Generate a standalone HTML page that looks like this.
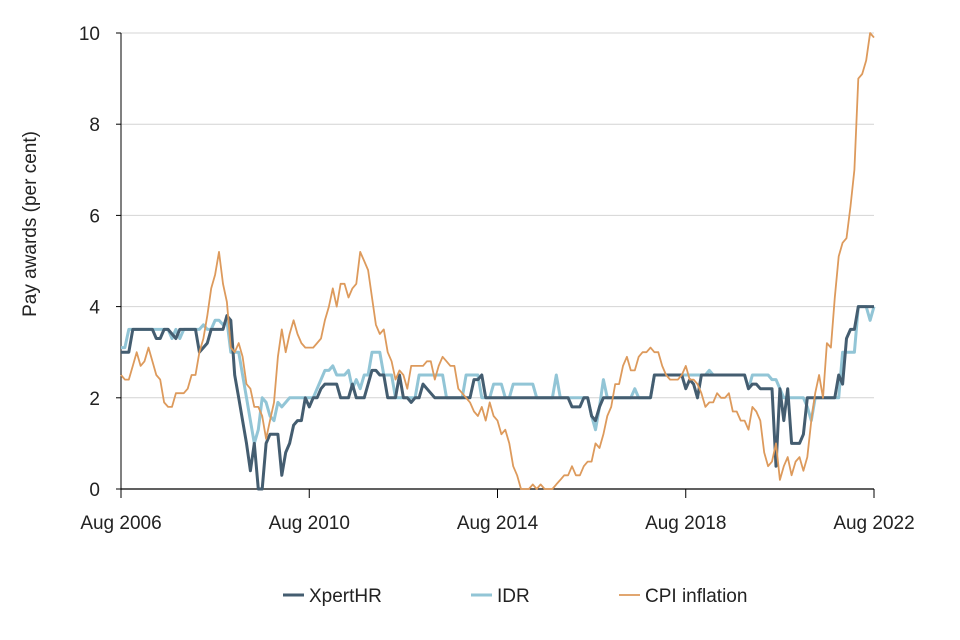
<!DOCTYPE html>
<html><head><meta charset="utf-8"><style>
html,body{margin:0;padding:0;background:#fff;width:960px;height:640px;overflow:hidden}
text{font-family:"Liberation Sans",sans-serif;fill:#222}
</style></head><body>
<svg id="chart" width="960" height="640" viewBox="0 0 960 640" xmlns="http://www.w3.org/2000/svg">
<g id="grid"></g><g id="axes"></g><g id="series"></g><g id="legend"></g>
</svg>
<script>
const xTickLabels = ["Aug 2006","Aug 2010","Aug 2014","Aug 2018","Aug 2022"];
const xTickMonths = [0,48,96,144,192];
const yTicks = [0,2,4,6,8,10];
const xperthr = [3.0,3.0,3.0,3.5,3.5,
3.5,3.5,3.5,3.5,3.3,3.3,3.5,3.5,3.4,3.3,3.5,3.5,
3.5,3.5,3.5,3.0,3.1,3.2,3.5,3.5,3.5,3.5,3.8,3.7,
2.5,2.0,1.5,1.0,0.4,1.0,0.0,0.0,1.0,1.2,1.2,1.2,
0.3,0.8,1.0,1.4,1.5,1.5,2.0,1.8,2.0,2.0,2.2,2.3,
2.3,2.3,2.3,2.0,2.0,2.0,2.3,2.0,2.0,2.0,2.3,2.6,
2.6,2.5,2.5,2.0,2.0,2.0,2.5,2.0,2.0,1.9,2.0,2.0,
2.3,2.2,2.1,2.0,2.0,2.0,2.0,2.0,2.0,2.0,2.0,2.0,
2.0,2.4,2.4,2.5,2.0,2.0,2.0,2.0,2.0,2.0,2.0,2.0,
2.0,2.0,2.0,2.0,2.0,2.0,2.0,2.0,2.0,2.0,2.0,2.0,
2.0,2.0,1.8,1.8,1.8,2.0,2.0,1.6,1.5,1.8,2.0,2.0,
2.0,2.0,2.0,2.0,2.0,2.0,2.0,2.0,2.0,2.0,2.0,2.5,
2.5,2.5,2.5,2.5,2.5,2.5,2.5,2.2,2.4,2.3,2.0,2.5,
2.5,2.5,2.5,2.5,2.5,2.5,2.5,2.5,2.5,2.5,2.5,2.2,
2.3,2.3,2.2,2.2,2.2,2.2,0.5,2.2,1.5,2.2,1.0,1.0,
1.0,1.2,2.0,2.0,2.0,2.0,2.0,2.0,2.0,2.0,2.5,2.3,
3.3,3.5,3.5,4.0,4.0,4.0,4.0,4.0];
const idr = [3.1,3.1,3.5,3.5,3.5,
3.5,3.5,3.5,3.5,3.5,3.5,3.5,3.5,3.3,3.5,3.3,3.5,
3.5,3.5,3.5,3.5,3.6,3.5,3.5,3.7,3.7,3.6,3.7,3.0,
3.0,3.0,2.5,2.0,1.5,1.0,1.3,2.0,1.9,1.6,1.5,1.9,
1.8,1.9,2.0,2.0,2.0,2.0,2.0,2.0,2.0,2.2,2.4,2.6,
2.6,2.7,2.5,2.5,2.5,2.6,2.2,2.4,2.2,2.5,2.5,3.0,
3.0,3.0,2.5,2.5,2.5,2.0,2.0,2.0,2.0,2.0,2.0,2.5,
2.5,2.5,2.5,2.5,2.5,2.5,2.0,2.0,2.0,2.0,2.0,2.5,
2.5,2.5,2.5,2.0,2.0,2.0,2.3,2.3,2.3,2.0,2.0,2.3,
2.3,2.3,2.3,2.3,2.3,2.0,2.0,2.0,2.0,2.0,2.5,2.0,
2.0,2.0,2.0,2.0,2.0,2.0,2.0,1.6,1.3,1.8,2.4,2.0,
2.0,2.0,2.0,2.0,2.0,2.0,2.2,2.0,2.0,2.0,2.0,2.5,
2.5,2.5,2.5,2.5,2.5,2.5,2.5,2.5,2.5,2.5,2.5,2.5,
2.5,2.6,2.5,2.5,2.5,2.5,2.5,2.5,2.5,2.5,2.5,2.2,
2.5,2.5,2.5,2.5,2.5,2.4,2.4,2.2,2.0,2.0,2.0,2.0,
2.0,2.0,1.8,1.5,2.0,2.0,2.0,2.0,2.0,2.0,2.0,3.0,
3.0,3.0,3.0,4.0,4.0,4.0,3.7,4.0];
const cpi = [2.5,2.4,2.4,2.7,3.0,
2.7,2.8,3.1,2.8,2.5,2.4,1.9,1.8,1.8,2.1,2.1,2.1,
2.2,2.5,2.5,3.0,3.3,3.8,4.4,4.7,5.2,4.5,4.1,3.1,
3.0,3.2,2.9,2.3,2.2,1.8,1.8,1.6,1.1,1.5,1.9,2.9,
3.5,3.0,3.4,3.7,3.4,3.2,3.1,3.1,3.1,3.2,3.3,3.7,
4.0,4.4,4.0,4.5,4.5,4.2,4.4,4.5,5.2,5.0,4.8,4.2,
3.6,3.4,3.5,3.0,2.8,2.4,2.6,2.5,2.2,2.7,2.7,2.7,
2.7,2.8,2.8,2.4,2.7,2.9,2.8,2.7,2.7,2.2,2.1,2.0,
1.9,1.7,1.6,1.8,1.5,1.9,1.6,1.5,1.2,1.3,1.0,0.5,
0.3,0.0,0.0,0.0,0.1,0.0,0.1,0.0,0.0,0.0,0.1,0.2,
0.3,0.3,0.5,0.3,0.3,0.5,0.6,0.6,1.0,0.9,1.2,1.6,
1.8,2.3,2.3,2.7,2.9,2.6,2.6,2.9,3.0,3.0,3.1,3.0,
3.0,2.7,2.5,2.4,2.4,2.4,2.5,2.7,2.4,2.4,2.3,2.1,
1.8,1.9,1.9,2.1,2.0,2.0,2.1,1.7,1.7,1.5,1.5,1.3,
1.8,1.7,1.5,0.8,0.5,0.6,1.0,0.2,0.5,0.7,0.3,0.6,
0.7,0.4,0.7,1.5,2.1,2.5,2.0,3.2,3.1,4.2,5.1,5.4,
5.5,6.2,7.0,9.0,9.1,9.4,10.1,9.9];

const X0=121,X1=874,Y0=489,Y1=33,NS="http://www.w3.org/2000/svg";
const totalMonths=192;
function xm(i){return X0+(X1-X0)*i/totalMonths;}
function xs(i,n){return X0+(X1-X0)*i/(n-1);}
function ys(v){return Y0-(Y0-Y1)*Math.min(Math.max(v,0),10)/10;}
function mk(tag,attrs,parent){const e=document.createElementNS(NS,tag);for(const k in attrs)e.setAttribute(k,attrs[k]);parent.appendChild(e);return e;}
const grid=document.getElementById('grid'),axes=document.getElementById('axes'),series=document.getElementById('series'),legend=document.getElementById('legend');
yTicks.forEach(v=>{
  if(v>0){const g=mk('line',{x1:X0,x2:X1,y1:ys(v),y2:ys(v),stroke:'#d4d4d4','stroke-width':1},grid);
  
  }
  const t=mk('line',{x1:X0-5,x2:X0,y1:ys(v),y2:ys(v),stroke:'#000','stroke-width':1},axes);
  
  
  const l=mk('text',{x:100,y:ys(v)+7,'text-anchor':'end','font-size':19},axes);l.textContent=v;
  
  
});
const ya=mk('line',{x1:X0,x2:X0,y1:Y1,y2:Y0,stroke:'#000','stroke-width':1},axes);


const xa=mk('line',{x1:X0,x2:X1,y1:Y0,y2:Y0,stroke:'#000','stroke-width':1.3},axes);


xTickMonths.forEach((m,i)=>{
  const t=mk('line',{x1:xm(m),x2:xm(m),y1:Y0,y2:Y0+9,stroke:'#000','stroke-width':1},axes);
  
  
  const l=mk('text',{x:xm(m),y:529,'text-anchor':'middle','font-size':19},axes);l.textContent=xTickLabels[i];
  
  
});
const yt=mk('text',{x:0,y:0,'text-anchor':'middle','font-size':19,transform:'translate(36,224) rotate(-90)'},axes);
yt.textContent='Pay awards (per cent)';


function drawLine(arr,color,w,name){
  const d=arr.map((v,i)=>(i?'L':'M')+xs(i,arr.length).toFixed(1)+','+ys(v).toFixed(1)).join('');
  const p=mk('path',{d:d,fill:'none',stroke:color,'stroke-width':w,'stroke-linejoin':'round'},series);
  
  
}
drawLine(idr,'#92c5d6',3,'idr-line');
drawLine(xperthr,'#445d70',3,'xperthr-line');
drawLine(cpi,'#dd9a5c',1.8,'cpi-line');
[['XpertHR','#445d70',3,283],['IDR','#92c5d6',3,471],['CPI inflation','#dd9a5c',1.8,619]].forEach(e=>{
  const g=mk('g',{},legend);
  
  
  mk('line',{x1:e[3],x2:e[3]+21,y1:595,y2:595,stroke:e[1],'stroke-width':e[2]},g);
  const t=mk('text',{x:e[3]+26,y:602,'font-size':19},g);t.textContent=e[0];
});
</script>
</body></html>
